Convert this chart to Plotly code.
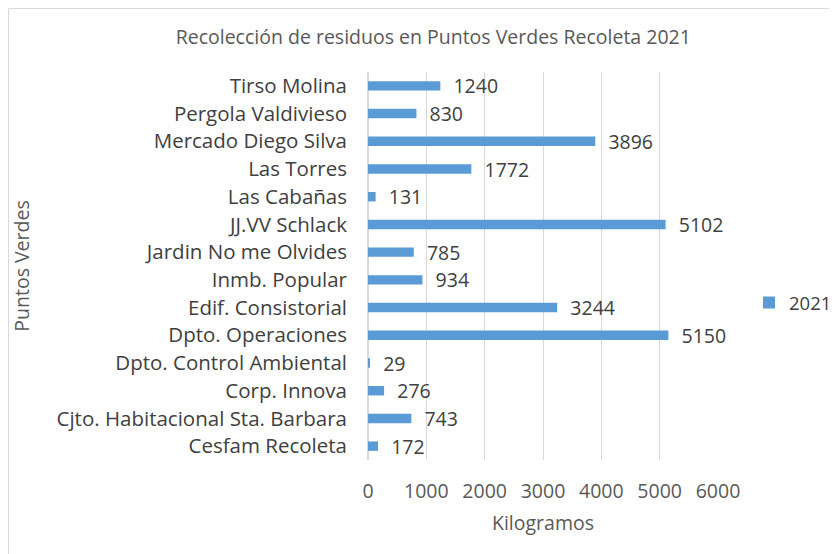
import plotly.graph_objects as go

categories = ["Cesfam Recoleta", "Cjto. Habitacional Sta. Barbara", "Corp. Innova",
              "Dpto. Control Ambiental", "Dpto. Operaciones", "Edif. Consistorial",
              "Inmb. Popular", "Jardin No me Olvides", "JJ.VV Schlack", "Las Cabañas",
              "Las Torres", "Mercado Diego Silva", "Pergola Valdivieso", "Tirso Molina"]
values_2021 = [172, 743, 276, 29, 5150, 3244, 934, 785, 5102, 131, 1772, 3896, 830, 1240]
x_ticks = [0, 1000, 2000, 3000, 4000, 5000, 6000]

FONT = "Open Sans"
TXT = "#404040"
SUB = "#595959"
FS = 19.5

W, H = 829, 546
L, R, T, B = 360, 119, 64, 94
PW, PH = W - L - R, H - T - B

fig = go.Figure()
fig.add_trace(go.Bar(
    y=categories, x=values_2021, orientation="h", name="2021",
    marker=dict(color="#5B9BD5", line=dict(width=0)),
    texttemplate="  %{x}", textposition="outside", constraintext="none",
    textfont=dict(family=FONT, size=FS, color=TXT), cliponaxis=False,
))

fig.update_layout(
    width=W, height=H,
    margin=dict(l=L, r=R, t=T, b=B, autoexpand=False),
    paper_bgcolor="white", plot_bgcolor="white",
    font=dict(family=FONT, color=TXT),
    title=dict(text="Recolección de residuos en Puntos Verdes Recoleta 2021",
               x=0.513, xanchor="center", y=1 - 29 / H, yanchor="middle",
               font=dict(family=FONT, size=19.5, color=SUB)),
    bargap=0.66,
    showlegend=True,
    legend=dict(x=(741 - L) / PW, y=(T + PH - 295) / PH, xanchor="left", yanchor="middle",
                font=dict(family=FONT, size=18.5, color=TXT),
                itemwidth=30, bgcolor="rgba(0,0,0,0)"),
    xaxis=dict(range=[0, 6000], tickvals=x_ticks, showgrid=True,
               gridcolor="#D9D9D9", gridwidth=1, zeroline=True,
               zerolinecolor="#D9D9D9", showline=False, ticks="",
               automargin=False, ticklabelstandoff=17,
               tickfont=dict(family=FONT, size=FS, color=SUB),
               title=dict(text="Kilogramos", font=dict(family=FONT, size=FS, color=SUB),
                          standoff=13)),
    yaxis=dict(showgrid=False, ticks="", showline=False, automargin=False,
               ticklabelstandoff=20,
               tickfont=dict(family=FONT, size=20.5, color=TXT),
               title=dict(text="Puntos Verdes", font=dict(family=FONT, size=FS, color=SUB),
                          standoff=21)),
    shapes=[dict(type="rect", xref="paper", yref="paper",
                 x0=(0.5 - L) / PW, x1=(W + 5 - L) / PW,
                 y0=-(B + 10) / PH, y1=(PH + T - 0.5) / PH,
                 line=dict(color="#D9D9D9", width=1), fillcolor="rgba(0,0,0,0)", layer="below")],
)

fig.write_html("out.html")
